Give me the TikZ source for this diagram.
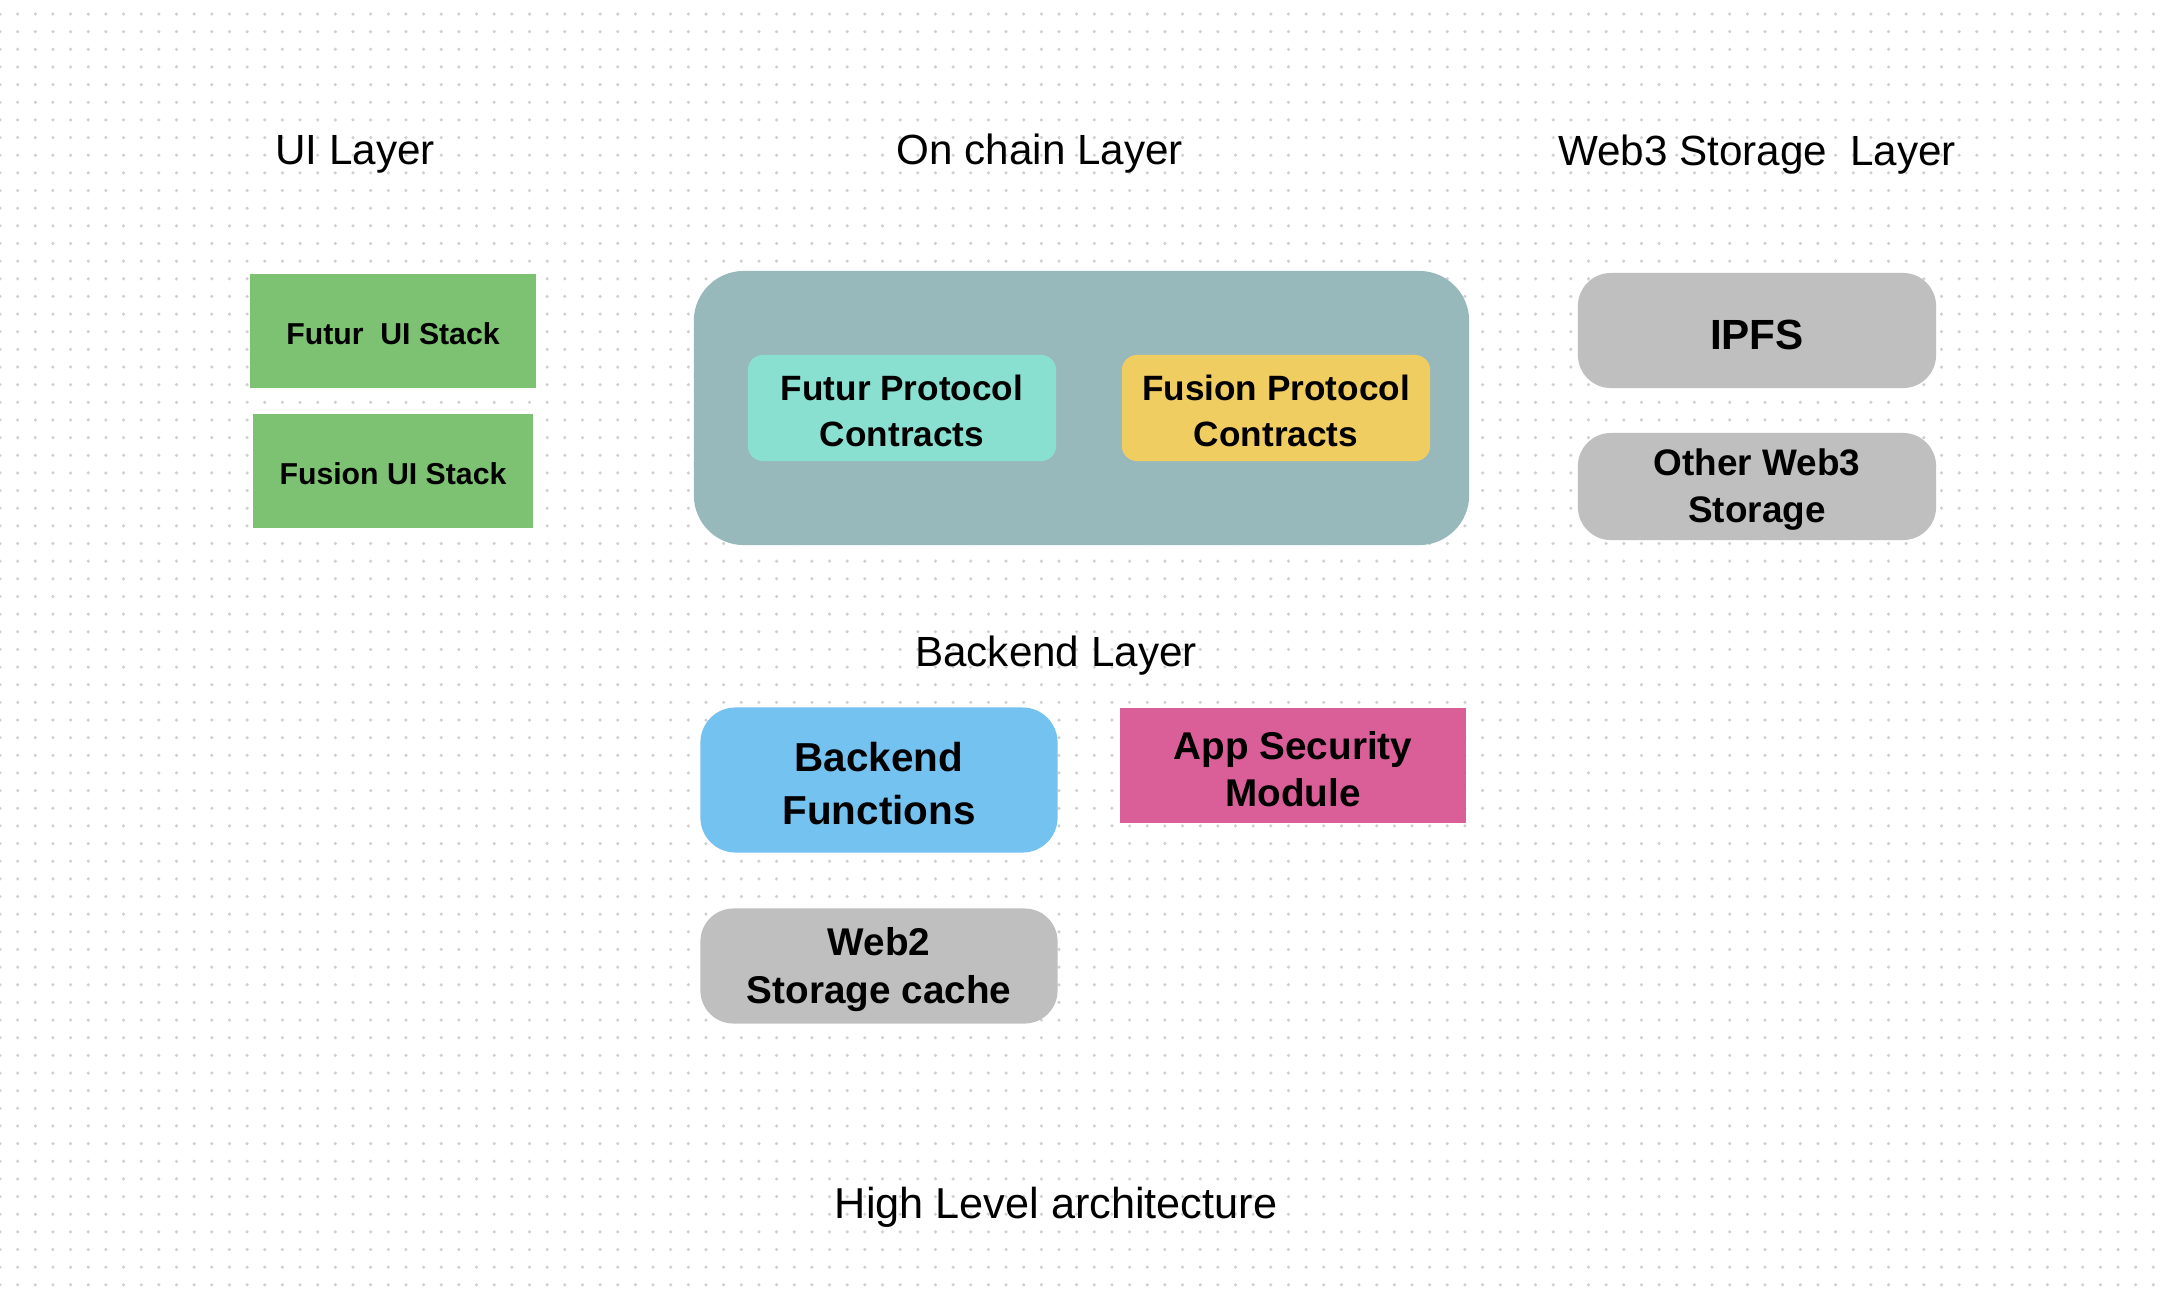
\documentclass[tikz,border=0pt]{standalone}
\usepackage{fontspec}
\setmainfont{Liberation Sans}
\usepackage{tikz}
\usetikzlibrary{positioning}
\usepackage{xcolor}
\definecolor{uigreen}{RGB}{125, 194, 114}
\definecolor{chainteal}{RGB}{151, 185, 188}
\definecolor{futurmint}{RGB}{138, 224, 208}
\definecolor{fusionyellow}{RGB}{240, 205, 96}
\definecolor{storegray}{RGB}{191, 191, 191}
\definecolor{backendblue}{RGB}{116, 194, 240}
\definecolor{securitypink}{RGB}{218, 94, 152}
\definecolor{dotgray}{RGB}{208, 208, 208}
\newcommand{\lift}{\rule{0pt}{0.9em}}

\begin{document}
\begin{tikzpicture}[x=0.01cm, y=-0.01cm,
    layertitle/.style={anchor=base, inner sep=0pt, font=\fontsize{12}{14}\selectfont},
    blockbox/.style={inner sep=0pt, align=center, font=\bfseries},
    uibox/.style={blockbox, fill=uigreen, minimum width=2.86cm, minimum height=1.14cm,
        font=\fontsize{8.6}{10}\selectfont\bfseries},
    contractbox/.style={blockbox, rounded corners=0.15cm, minimum width=3.08cm, minimum height=1.06cm,
        font=\fontsize{10}{13.1}\selectfont\bfseries},
    storebox/.style={blockbox, fill=storegray, rounded corners=0.33cm, minimum width=3.58cm}]

    \useasboundingbox (0,0) rectangle (2168,1296);
    \fill[white] (0,0) rectangle (2168,1296);
    % dotted canvas
    \foreach \j in {0,...,72}
        \fill[dotgray] foreach \i in {0,...,122} {(\i*17.65, 14+\j*17.65) circle (0.5pt)};

    % layer titles
    \node[layertitle] (uititle) at (355,164) {UI Layer};
    \node[layertitle] (chaintitle) at (1040,164) {On chain Layer};
    \node[layertitle] (web3title) at (1757,165) {Web3 Storage\ \ Layer};
    \node[layertitle] (backendtitle) at (1056,666) {Backend Layer};
    \node[layertitle, font=\fontsize{12.3}{14}\selectfont] (caption) at (1056,1218) {High Level architecture};

    % UI layer
    \node[uibox] (futurui) at (393,331) {\lift Futur\ \ UI Stack};
    \node[uibox, minimum width=2.80cm] (fusionui) at (393,471) {\lift Fusion UI Stack};

    % on chain layer
    \node[blockbox, fill=chainteal, rounded corners=0.5cm, minimum width=7.75cm, minimum height=2.74cm]
        (onchain) at (1081.5,408) {};
    \node[contractbox, fill=futurmint] (futurpc) at (902,408) {\lift Futur Protocol\\Contracts};
    \node[contractbox, fill=fusionyellow] (fusionpc) at (1276,408) {\lift Fusion Protocol\\Contracts};

    % web3 storage layer
    \node[storebox, minimum height=1.15cm, font=\fontsize{12}{14}\selectfont\bfseries]
        (ipfs) at (1757,330.5) {\lift IPFS};
    \node[storebox, minimum height=1.07cm, font=\fontsize{10.5}{13.4}\selectfont\bfseries]
        (otherweb3) at (1757,486.5) {\lift Other Web3\\Storage};

    % backend layer
    \node[blockbox, fill=backendblue, rounded corners=0.35cm, minimum width=3.57cm, minimum height=1.45cm,
        font=\fontsize{11.5}{15}\selectfont\bfseries] (backendfn) at (879,780) {\lift Backend\\Functions};
    \node[blockbox, fill=securitypink, minimum width=3.46cm, minimum height=1.15cm,
        font=\fontsize{11}{13.4}\selectfont\bfseries] (appsec) at (1293,765.5) {\lift App Security\\Module};
    \node[storebox, minimum width=3.57cm, minimum height=1.15cm,
        font=\fontsize{11}{13.7}\selectfont\bfseries] (web2cache) at (879,966) {\lift Web2\\Storage cache};
\end{tikzpicture}
\end{document}
